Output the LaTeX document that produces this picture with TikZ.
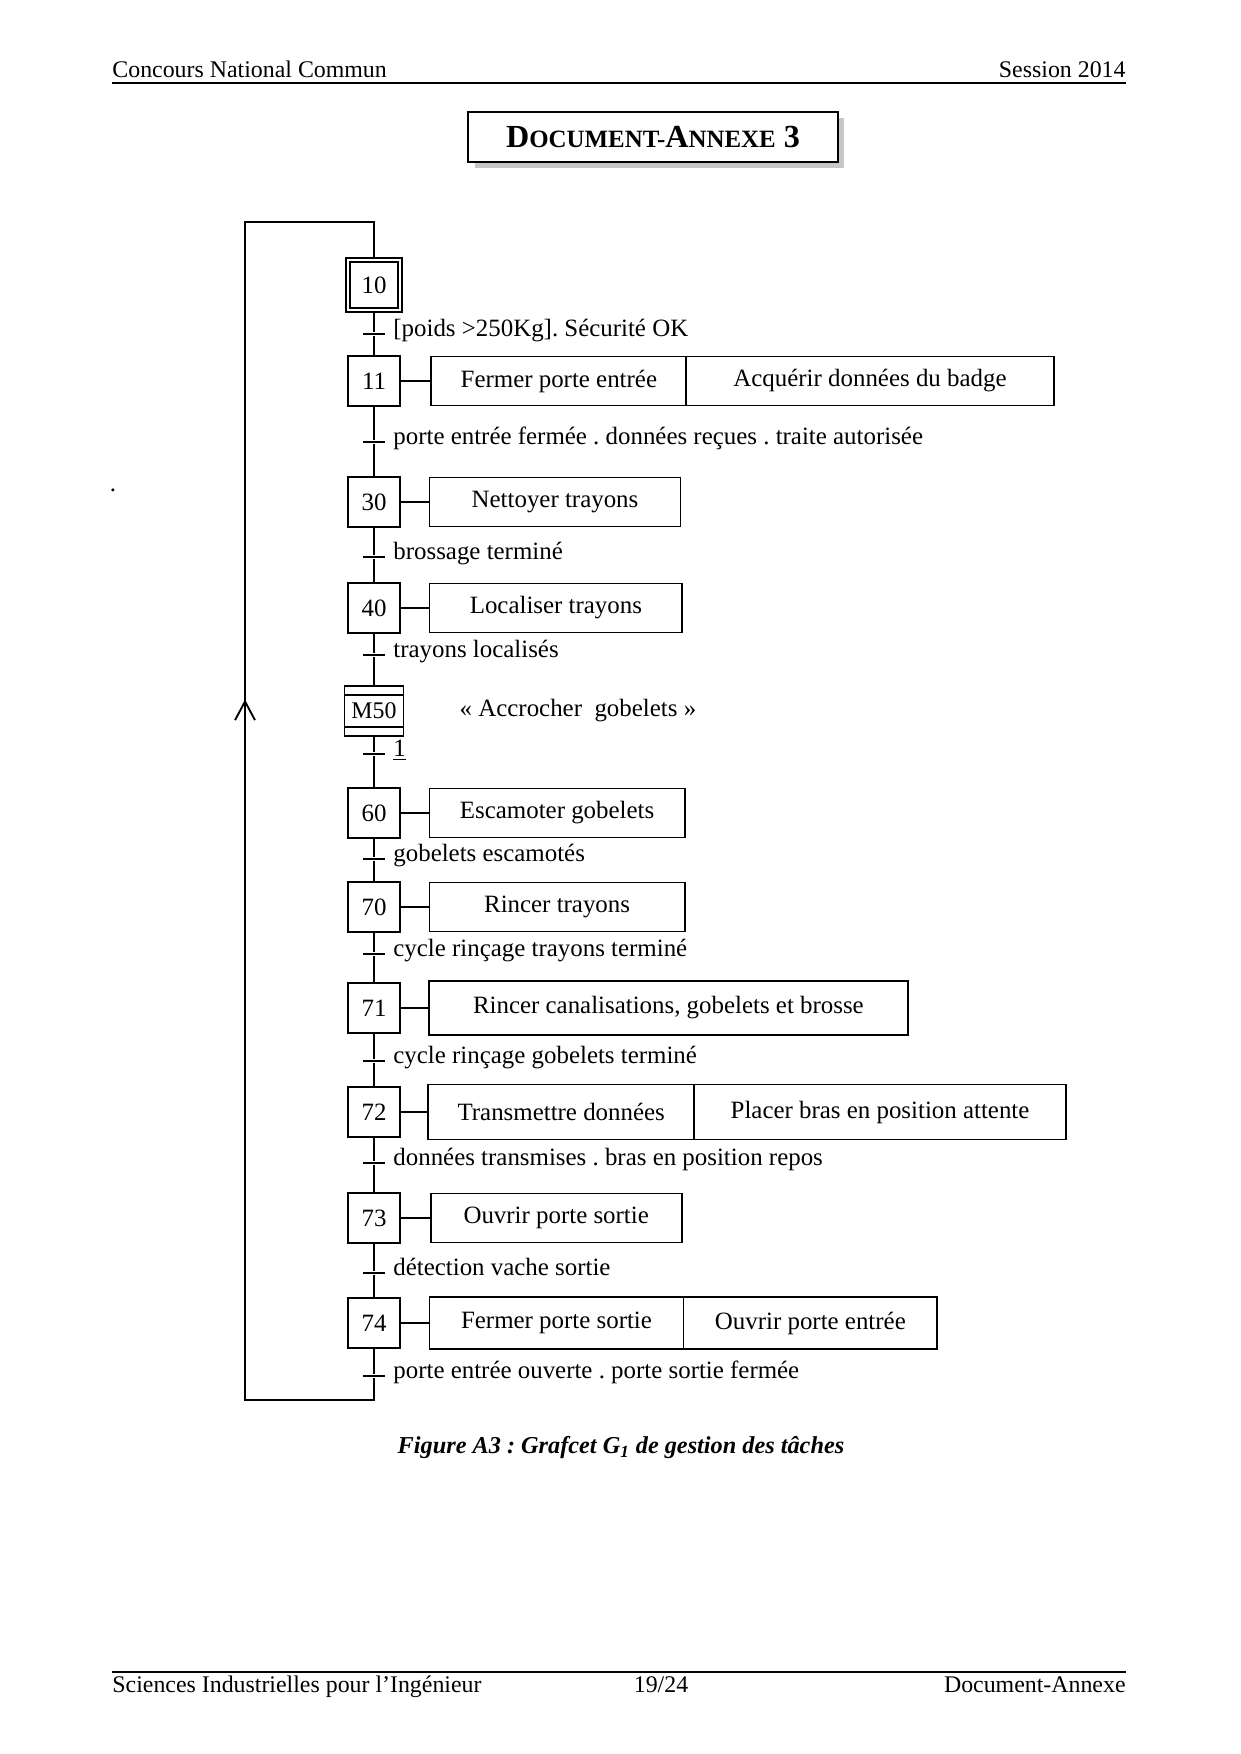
\documentclass[tikz,border=0pt]{standalone}
\usepackage{fontspec}
\setmainfont{Liberation Serif}
\usetikzlibrary{positioning}
\usetikzlibrary{decorations.markings}
\usetikzlibrary{arrows.meta}
\usetikzlibrary{shadows}
\frenchspacing

\newcommand{\txt}{\fontsize{12}{14}\selectfont}
\newcommand{\grand}{\fontsize{15.5}{18}\selectfont}
\newcommand{\petit}{\fontsize{12}{14}\selectfont}

\tikzset{
  etape/.style={draw, line width=0.9pt, minimum width=25pt, minimum height=24pt, inner sep=0pt, font=\txt},
  initiale/.style={etape, double, double distance=1.2pt, outer sep=1.5pt},
  macro/.style={etape, minimum width=28.4pt, font=\fontsize{11.5}{14}\selectfont},
  action/.style={draw, line width=0.9pt, minimum height=23.6pt, inner sep=0pt, font=\txt},
  trans/.style={fill=black, minimum width=10.5pt, minimum height=1.1pt, inner sep=0pt},
  recep/.style={inner sep=0pt, font=\txt, anchor=base west, yshift=-1.2pt},
  lien/.style={line width=0.9pt}
}

\begin{document}
\begin{tikzpicture}[x=0.016935cm, y=-0.016935cm]

\useasboundingbox (0,0) rectangle (1240,1754);

% header and footer
\node[anchor=base west, inner sep=0pt, font=\fontsize{11.5}{13}\selectfont] (hg) at (112,77) {Concours National Commun};
\node[anchor=base east, inner sep=0pt, font=\fontsize{11.5}{13}\selectfont] (hd) at (1126,77) {Session 2014};
\draw[line width=1.1pt] (112,83) -- (1126,83);
\draw[line width=0.7pt] (112,1672) -- (1126,1672);
\node[anchor=base west, inner sep=0pt, font=\fontsize{11.5}{13}\selectfont] (bg) at (112,1692) {Sciences Industrielles pour l’Ingénieur};
\node[anchor=base, inner sep=0pt, font=\fontsize{11.5}{13}\selectfont] (bm) at (661,1692) {19/24};
\node[anchor=base east, inner sep=0pt, font=\fontsize{11.5}{13}\selectfont] (bd) at (1126,1692) {Document-Annexe};

% title box
\node[draw, line width=0.9pt, fill=white, minimum width=178pt, minimum height=24pt,
      drop shadow={shadow xshift=3pt, shadow yshift=-3pt, fill=black!22, opacity=1}] (titre) at (653,137)
  {\bfseries\grand D\petit OCUMENT-\grand A\petit NNEXE\grand{} 3};

\node[inner sep=0pt, font=\txt] (point) at (113,490) {.};

% steps
\node[initiale] (s10) at (374,285) {10};
\node[etape] (s11) at (374,381) {11};
\node[etape] (s30) at (374,502) {30};
\node[etape] (s40) at (374,608) {40};
\node[macro] (m50) at (374,711) {M50};
\node[etape] (s60) at (374,813) {60};
\node[etape] (s70) at (374,907) {70};
\node[etape] (s71) at (374,1008) {71};
\node[etape] (s72) at (374,1112) {72};
\node[etape] (s73) at (374,1218) {73};
\node[etape] (s74) at (374,1323) {74};

% macro-step bars
\draw[lien] ([yshift=-4.6pt]m50.north west) -- ([yshift=-4.6pt]m50.north east);
\draw[lien] ([yshift=4.6pt]m50.south west) -- ([yshift=4.6pt]m50.south east);

% transitions
\node[trans] (t1) at (374,334) {};
\node[trans] (t2) at (374,442) {};
\node[trans] (t3) at (374,557) {};
\node[trans] (t4) at (374,655) {};
\node[trans] (t5) at (374,754) {};
\node[trans] (t6) at (374,859) {};
\node[trans] (t7) at (374,954) {};
\node[trans] (t8) at (374,1061) {};
\node[trans] (t9) at (374,1163) {};
\node[trans] (t10) at (374,1273) {};
\node[trans] (t11) at (374,1376) {};

% receptivities
\node[right=1.3mm of t1, recep] (r1) {[poids >250Kg]. Sécurité OK};
\node[right=1.3mm of t2, recep] (r2) {porte entrée fermée . données reçues . traite autorisée};
\node[right=1.3mm of t3, recep] (r3) {brossage terminé};
\node[right=1.3mm of t4, recep] (r4) {trayons localisés};
\node[right=1.3mm of t5, recep] (r5) {\underline{1}};
\node[right=1.3mm of t6, recep] (r6) {gobelets escamotés};
\node[right=1.3mm of t7, recep] (r7) {cycle rinçage trayons terminé};
\node[right=1.3mm of t8, recep] (r8) {cycle rinçage gobelets terminé};
\node[right=1.3mm of t9, recep] (r9) {données transmises . bras en position repos};
\node[right=1.3mm of t10, recep] (r10) {détection vache sortie};
\node[right=1.3mm of t11, recep] (r11) {porte entrée ouverte . porte sortie fermée};

% actions
\node[action, minimum width=43.2mm, right=5mm of s11] (a11) {Fermer porte entrée};
\node[action, minimum width=62.2mm, right=-0.9pt of a11] (a11b) {Acquérir données du badge};
\node[action, minimum width=42.5mm, right=4.7mm of s30] (a30) {Nettoyer trayons};
\node[action, minimum width=42.8mm, right=4.7mm of s40] (a40) {Localiser trayons};
\node[right=9.3mm of m50, inner sep=0pt, font=\txt] (a50) {« Accrocher\ \ gobelets »};
\node[action, minimum width=43.2mm, right=4.7mm of s60] (a60) {Escamoter gobelets};
\node[action, minimum width=43.2mm, right=4.7mm of s70] (a70) {Rincer trayons};
\node[action, minimum width=81.1mm, minimum height=26pt, right=4.6mm of s71] (a71) {Rincer canalisations, gobelets et brosse};
\node[action, minimum width=45mm, minimum height=26.5pt, right=4.5mm of s72] (a72) {Transmettre données};
\node[action, minimum width=63mm, minimum height=26.5pt, right=-0.9pt of a72] (a72b) {Placer bras en position attente};
\node[action, minimum width=42.5mm, right=4.9mm of s73] (a73) {Ouvrir porte sortie};
\node[action, minimum width=43mm, minimum height=25pt, right=4.7mm of s74] (a74) {Fermer porte sortie};
\node[action, minimum width=43mm, minimum height=25pt, right=-0.9pt of a74] (a74b) {Ouvrir porte entrée};

\draw[lien] (s11) -- (a11);
\draw[lien] (s30) -- (a30);
\draw[lien] (s40) -- (a40);
\draw[lien] (s60) -- (a60);
\draw[lien] (s70) -- (a70);
\draw[lien] (s71) -- (a71);
\draw[lien] (s72) -- (a72);
\draw[lien] (s73) -- (a73);
\draw[lien] (s74) -- (a74);

% links between steps
\draw[lien] (s10) -- (t1) -- (s11) -- (t2) -- (s30) -- (t3) -- (s40) -- (t4) -- (m50);
\draw[lien] (m50) -- (t5) -- (s60) -- (t6) -- (s70) -- (t7) -- (s71) -- (t8) -- (s72);
\draw[lien] (s72) -- (t9) -- (s73) -- (t10) -- (s74) -- (t11);

% return loop
\coordinate (lb) at (245,1400);
\coordinate (lt) at (245,222);
\draw[lien, postaction={decorate}, decoration={markings, mark=at position 14.43cm with {\arrow{Straight Barb[length=9pt, width=9.6pt, line width=0.9pt]}}}]
  (t11) |- (lb) -- (lt) -| (s10);

% caption
\node[font=\fontsize{11.7}{14}\selectfont\bfseries\itshape] (legende) at (621,1448) {Figure A3 : Grafcet G\textsubscript{1} de gestion des tâches};

\end{tikzpicture}
\end{document}
